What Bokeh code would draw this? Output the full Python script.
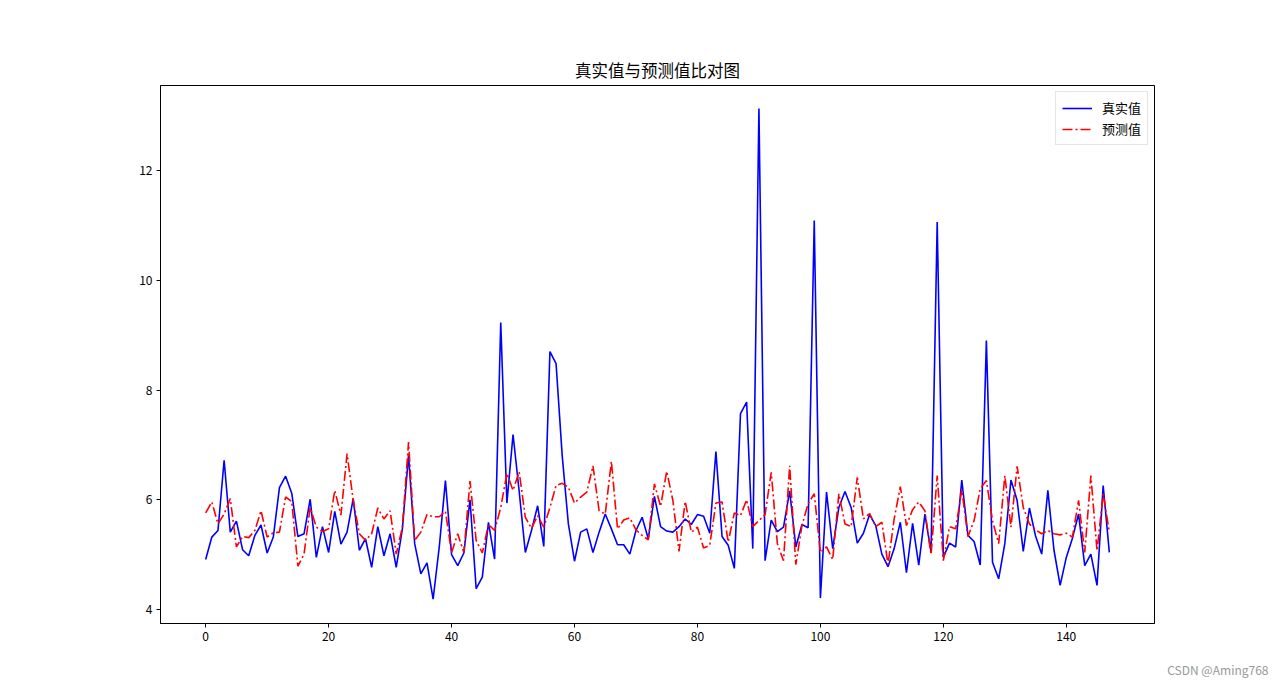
from bokeh.plotting import figure
from bokeh.models import Range1d, FixedTicker, Legend, LegendItem, Title
from bokeh.embed import file_html
from bokeh.resources import INLINE

x_idx = list(range(148))

true_vals = [
    4.91, 5.32, 5.44, 6.72, 5.41, 5.61, 5.09, 4.98, 5.35, 5.54,
    5.03, 5.32, 6.22, 6.43, 6.12, 5.33, 5.38, 6.01, 4.95, 5.51,
    5.04, 5.79, 5.19, 5.41, 6.02, 5.08, 5.29, 4.77, 5.51, 4.98,
    5.38, 4.77, 5.47, 6.81, 5.20, 4.65, 4.85, 4.19, 5.14, 6.35,
    5.00, 4.80, 5.03, 6.00, 4.38, 4.59, 5.59, 4.92, 9.23, 5.94,
    7.19, 6.15, 5.04, 5.44, 5.89, 5.15, 8.70, 8.48, 6.80, 5.56,
    4.88, 5.41, 5.47, 5.04, 5.41, 5.74, 5.47, 5.18, 5.18, 5.01,
    5.44, 5.68, 5.29, 6.06, 5.51, 5.43, 5.41, 5.51, 5.65, 5.55,
    5.73, 5.70, 5.39, 6.88, 5.33, 5.17, 4.75, 7.57, 7.78, 5.11,
    13.13, 4.89, 5.63, 5.42, 5.50, 6.16, 5.14, 5.55, 5.49, 11.09,
    4.21, 6.14, 5.11, 5.86, 6.15, 5.86, 5.21, 5.39, 5.73, 5.53,
    5.01, 4.78, 5.11, 5.59, 4.67, 5.57, 4.81, 5.74, 5.05, 11.06,
    4.95, 5.21, 5.14, 6.36, 5.35, 5.24, 4.81, 8.90, 4.86, 4.56,
    5.20, 6.36, 5.99, 5.06, 5.85, 5.34, 5.01, 6.17, 5.08, 4.44,
    4.95, 5.30, 5.74, 4.80, 5.01, 4.44, 6.26, 5.04,
]

pred_vals = [
    5.76, 5.96, 5.56, 5.74, 6.02, 5.14, 5.33, 5.31, 5.44, 5.80,
    5.32, 5.40, 5.41, 6.05, 5.97, 4.79, 5.01, 5.86, 5.50, 5.42,
    5.47, 6.17, 5.72, 6.84, 5.99, 5.38, 5.26, 5.38, 5.85, 5.65,
    5.80, 5.01, 5.50, 7.05, 5.26, 5.41, 5.73, 5.69, 5.69, 5.79,
    5.04, 5.38, 5.04, 6.34, 5.26, 5.03, 5.55, 5.44, 5.86, 6.48,
    6.17, 6.51, 5.68, 5.48, 5.71, 5.50, 5.86, 6.26, 6.30, 6.23,
    5.94, 6.05, 6.14, 6.62, 5.80, 5.74, 6.70, 5.47, 5.63, 5.67,
    5.45, 5.35, 5.27, 6.29, 5.88, 6.52, 5.99, 5.06, 5.97, 5.41,
    5.50, 5.12, 5.17, 5.94, 5.96, 5.23, 5.76, 5.71, 6.00, 5.51,
    5.62, 5.73, 6.50, 5.20, 4.89, 6.62, 4.82, 5.53, 5.93, 6.11,
    5.04, 5.14, 4.91, 6.11, 5.56, 5.51, 6.41, 5.65, 5.75, 5.51,
    5.59, 4.82, 5.65, 6.24, 5.53, 5.82, 5.96, 5.80, 5.00, 6.44,
    4.89, 5.51, 5.47, 6.18, 5.33, 5.62, 6.20, 6.35, 5.62, 5.20,
    6.44, 5.50, 6.61, 5.86, 5.56, 5.45, 5.38, 5.44, 5.38, 5.36,
    5.39, 5.32, 5.99, 5.04, 6.44, 5.07, 6.11, 5.41,
]

title_text = "真实值与预测值比对图"
label_true = "真实值"
label_pred = "预测值"
x_ticks = [0, 20, 40, 60, 80, 100, 120, 140]
y_ticks = [4, 6, 8, 10, 12]
watermark = "CSDN @Aming768"

FONT = "Noto Sans CJK SC"

W, H = 1274, 700
p = figure(width=W, height=H, output_backend="svg", toolbar_location=None,
           title=title_text,
           x_range=Range1d(-7.35, 154.35), y_range=Range1d(3.745, 13.55),
           min_border_left=160, min_border_right=120,
           min_border_top=85, min_border_bottom=77)
p.title.align = "center"
p.title.text_font = FONT
p.title.text_font_size = "16.5px"
p.title.text_font_style = "normal"
p.title.text_color = "black"
p.title.offset = 0
p.title.standoff = 7

p.xgrid.visible = False
p.ygrid.visible = False
p.outline_line_color = "black"
p.outline_line_width = 1
p.background_fill_color = "white"
p.border_fill_color = "white"

for ax in (p.xaxis[0], p.yaxis[0]):
    ax.axis_line_color = "black"
    ax.major_tick_line_color = "black"
    ax.minor_tick_line_color = None
    ax.major_tick_in = 0
    ax.major_tick_out = 4
    ax.major_label_text_font = FONT
    ax.major_label_text_font_size = "12px"
    ax.major_label_text_color = "black"
    ax.major_label_standoff = 4
p.xaxis.ticker = FixedTicker(ticks=x_ticks)
p.yaxis.ticker = FixedTicker(ticks=y_ticks)

r1 = p.line(x_idx, true_vals, line_color="#0000ff", line_width=1.6)
r2 = p.line(x_idx, pred_vals, line_color="#ff0000", line_width=1.6,
            line_dash="10 3 2 3")

legend = Legend(items=[LegendItem(label=label_true, renderers=[r1]),
                       LegendItem(label=label_pred, renderers=[r2])],
                location="top_right")
legend.label_text_font = FONT
legend.label_text_font_size = "13px"
legend.label_text_color = "black"
legend.border_line_color = "#cccccc"
legend.border_line_width = 1
legend.background_fill_alpha = 0.8
legend.glyph_width = 30
legend.glyph_height = 14
legend.label_standoff = 10
legend.spacing = 2
legend.padding = 6
legend.margin = 6
legend.label_height = 14
p.add_layout(legend)

wm = Title(text=watermark, align="right", text_font=FONT,
           text_font_size="12px", text_font_style="normal",
           text_color="#999999", standoff=30, offset=-114,
           vertical_align="bottom")
p.add_layout(wm, "below")

open("out.html", "w").write(file_html(p, INLINE))
